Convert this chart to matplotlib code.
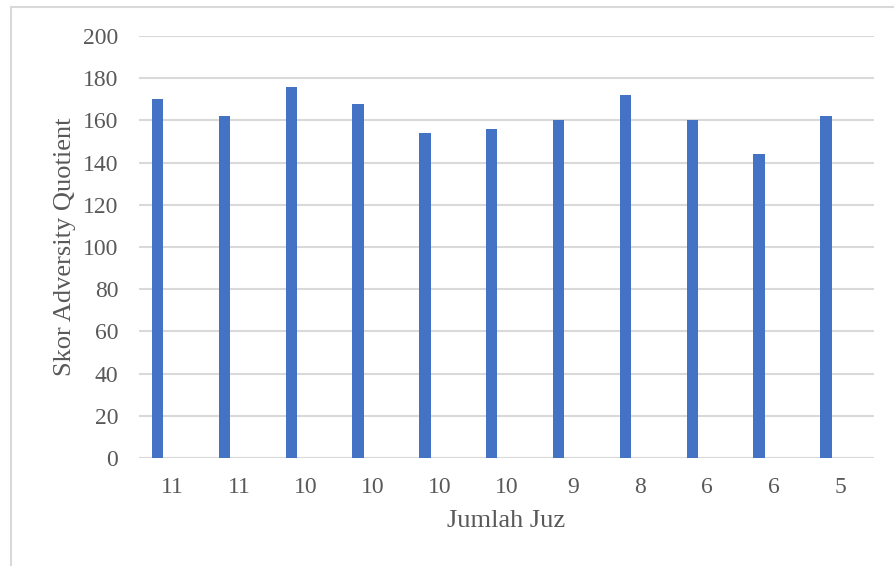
import matplotlib.pyplot as plt
from matplotlib.patches import Rectangle
import numpy as np

# Skor AQ per responden, diurutkan menurut jumlah hafalan juz
juz_labels = ["11", "11", "10", "10", "10", "10", "9", "8", "6", "6", "5"]
skor_aq = [170, 162, 176, 168, 154, 156, 160, 172, 160, 144, 162]

plt.rcParams["font.family"] = ["Liberation Serif", "DejaVu Serif"]
text_color = "#595959"
grid_color = "#d9d9d9"

fig = plt.figure(figsize=(8.95, 5.66), dpi=100)
ax = fig.add_axes([139 / 895, 108 / 566, 735 / 895, 422 / 566])

x = np.arange(len(skor_aq))
ax.bar(x - 0.22, skor_aq, width=0.17, color="#4472C4", zorder=3)

ax.set_xlim(-0.5, len(skor_aq) - 0.5)
ax.set_ylim(0, 200)
ax.set_yticks(np.arange(0, 201, 20))
ax.set_xticks(x)
ax.set_xticklabels(juz_labels)

ax.grid(axis="y", color=grid_color, linewidth=1.5, zorder=0)
for side in ["top", "right", "left", "bottom"]:
    ax.spines[side].set_visible(False)
ax.axhline(0, color=grid_color, linewidth=1.5, zorder=1)

ax.tick_params(axis="both", length=0, labelsize=17, labelcolor=text_color)
ax.tick_params(axis="y", pad=15)
ax.tick_params(axis="x", pad=14)

ax.set_xlabel("Jumlah Juz", fontsize=19, color=text_color, labelpad=8)
ax.set_ylabel("Skor Adversity Quotient", fontsize=19, color=text_color, labelpad=5)

# bingkai area grafik
fig.patches.append(Rectangle((11 / 895, -0.05), 1.0, 1 - 6.5 / 566 + 0.05,
                             transform=fig.transFigure, fill=False,
                             edgecolor=grid_color, linewidth=1.5))

fig.savefig("out.png", dpi=100)
